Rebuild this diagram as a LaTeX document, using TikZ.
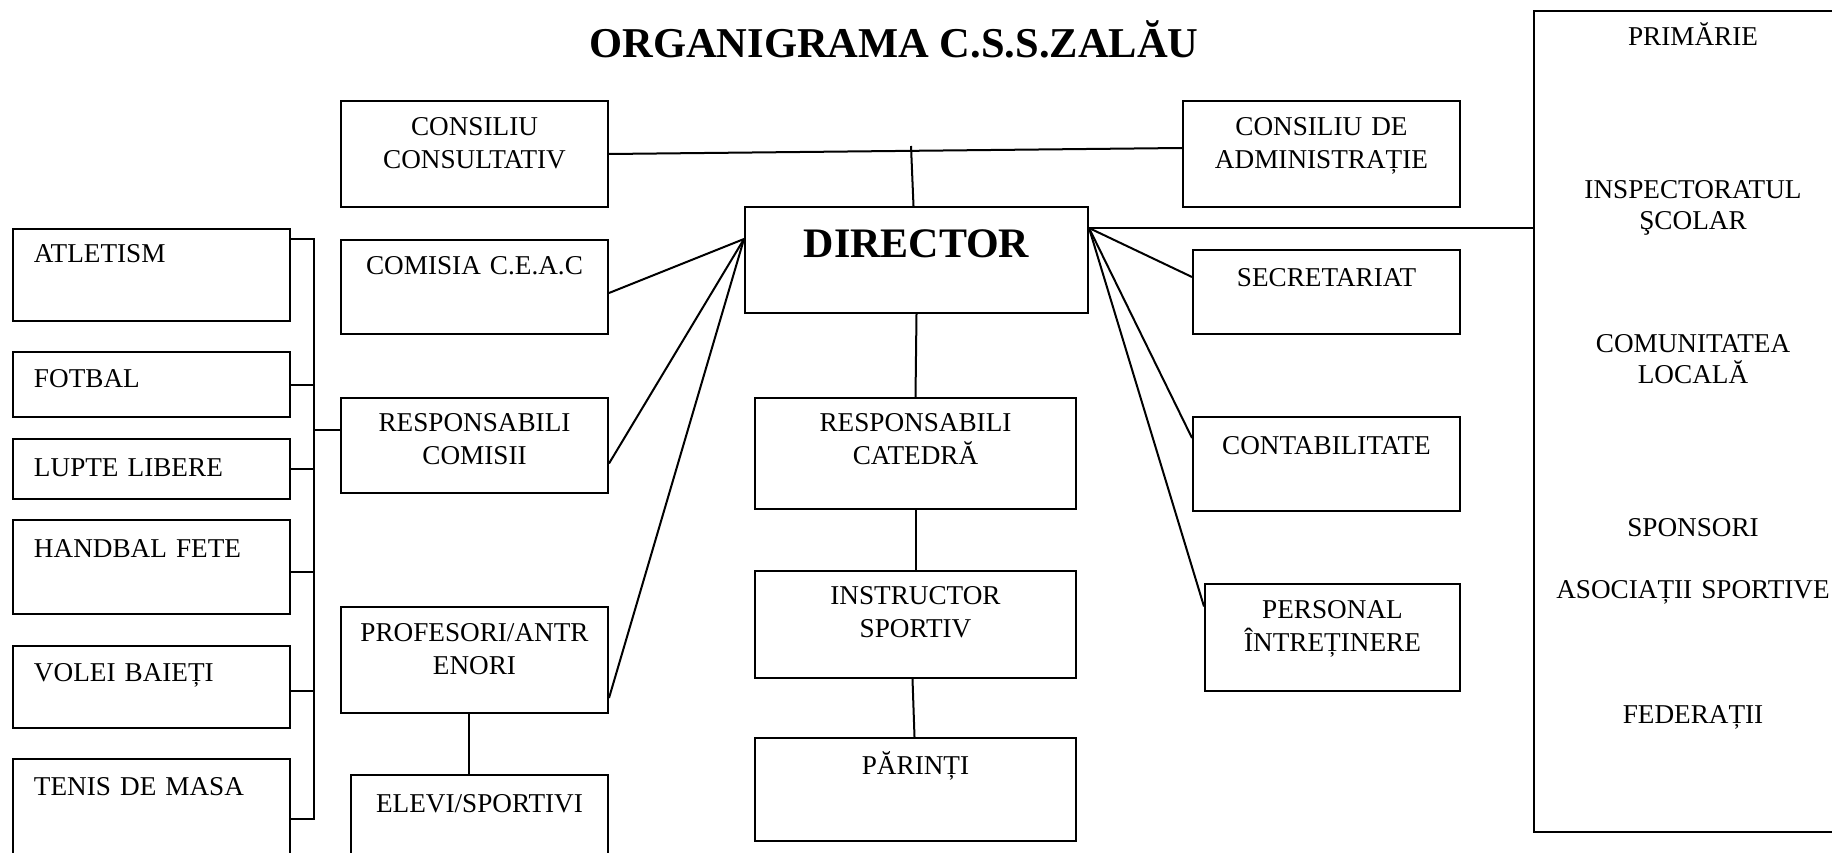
\documentclass[tikz,border=0pt]{standalone}
\usepackage{fontspec}
\setmainfont{Liberation Serif}

\tikzset{
  box/.style n args={3}{draw, line width=2pt, anchor=north west, inner sep=0pt,
    align=center, text width=#1, text height=#2, text depth=#3,
    font=\fontsize{27.2pt}{33pt}\selectfont},
  sport/.style n args={2}{box={235pt}{#1}{#2}, align=left, inner xsep=21pt},
  conn/.style={line width=2pt}
}

\begin{document}
\begin{tikzpicture}[x=1pt,y=-1pt]
\useasboundingbox (0,0) rectangle (1832,853);

\node[font=\fontsize{42.5pt}{48pt}\selectfont\bfseries, anchor=base] (title) at (894,58) {ORGANIGRAMA C.S.S.ZALĂU};

% conducere
\node[box={343pt}{51pt}{55pt}, font=\fontsize{42pt}{48pt}\selectfont\bfseries] (dir) at (744,206) {DIRECTOR};
\node[box={267pt}{35pt}{71pt}] (cc) at (340,100) {CONSILIU\\CONSULTATIV};
\node[box={277pt}{35pt}{71pt}] (ca) at (1182,100) {CONSILIU DE\\ADMINISTRAȚIE};

% stanga
\node[box={267pt}{35pt}{59pt}] (ceac) at (340,239) {COMISIA C.E.A.C};
\node[box={267pt}{33pt}{62pt}] (rcom) at (340,397) {RESPONSABILI\\COMISII};
\node[box={267pt}{34pt}{72pt}] (prof) at (340,606) {PROFESORI/ANTR\\ENORI};
\node[box={257pt}{37pt}{67pt}] (elevi) at (350,774) {ELEVI/SPORTIVI};

% centru
\node[box={321pt}{33pt}{78pt}] (rcat) at (754,397) {RESPONSABILI\\CATEDRĂ};
\node[box={321pt}{33pt}{74pt}] (instr) at (754,570) {INSTRUCTOR\\SPORTIV};
\node[box={321pt}{36pt}{67pt}] (par) at (754,737) {PĂRINȚI};

% dreapta
\node[box={267pt}{37pt}{47pt}] (sec) at (1192,249) {SECRETARIAT};
\node[box={267pt}{37pt}{57pt}] (cont) at (1192,416) {CONTABILITATE};
\node[box={255pt}{34pt}{73pt}] (pers) at (1204,583) {PERSONAL\\ÎNTREȚINERE};

% parteneri (caseta deschisa spre dreapta, taiata de marginea paginii)
\node[box={316pt}{34pt}{785pt}, draw=none, font=\fontsize{27.2pt}{31pt}\selectfont] (ext) at (1534,11)
  {PRIMĂRIE\\[122pt]INSPECTORATUL\\ŞCOLAR\\[92pt]COMUNITATEA\\LOCALĂ\\[122pt]SPONSORI\\[31pt]ASOCIAȚII SPORTIVE\\[94pt]FEDERAȚII};
\coordinate (edge) at (1832,0);
\draw[conn] (edge |- ext.north) -- (ext.north west) -- (ext.south west) -- (edge |- ext.south);

% ramuri sportive
\node[sport={34pt}{58pt}] (atl) at (12,228) {ATLETISM};
\node[sport={35pt}{30pt}] (fot) at (12,351) {FOTBAL};
\node[sport={37pt}{23pt}] (lupte) at (12,438) {LUPTE LIBERE};
\node[sport={37pt}{57pt}] (hand) at (12,519) {HANDBAL FETE};
\node[sport={35pt}{47pt}] (volei) at (12,645) {VOLEI BAIEȚI};
\node[sport={36pt}{84pt}] (tenis) at (12,758) {TENIS DE MASA};

% legaturi
\coordinate (tick) at (911,146);
\coordinate (dl) at ([yshift=-33pt]dir.north west);
\coordinate (dr) at ([yshift=-22pt]dir.north east);
\coordinate (bus) at (314,239);

\draw[conn] (cc.east) -- ([yshift=6pt]ca.west);
\draw[conn] (tick) -- ([xshift=-3pt]dir.north);
\draw[conn] ([yshift=-6pt]ceac.east) -- (dl);
\draw[conn] ([yshift=-18pt]rcom.east) -- (dl);
\draw[conn] ([yshift=-38pt]prof.east) -- (dl);
\draw[conn] (dr) -- (dr -| ext.west);
\draw[conn] (dr) -- ([yshift=15pt]sec.west);
\draw[conn] (dr) -- ([yshift=26pt]cont.west);
\draw[conn] (dr) -- ([yshift=31pt]pers.west);
\draw[conn] (dir.south) -- (rcat.north);
\draw[conn] (rcat.south) -- (instr.north);
\draw[conn] ([xshift=-3pt]instr.south) -- ([xshift=-1pt]par.north);
\draw[conn] ([xshift=-6pt]prof.south) -- ([xshift=-6pt]prof.south |- elevi.north);

\draw[conn] ([yshift=-11pt]atl.north east) -- (bus) |- (tenis.east);
\foreach \s/\d in {fot/0,lupte/0,hand/-5,volei/-4}
  \draw[conn] ([yshift=\d pt]\s.east) -- ([yshift=\d pt]\s.east -| bus);
\draw[conn] ([yshift=16pt]rcom.west) -- ([yshift=16pt]rcom.west -| bus);
\end{tikzpicture}
\end{document}
